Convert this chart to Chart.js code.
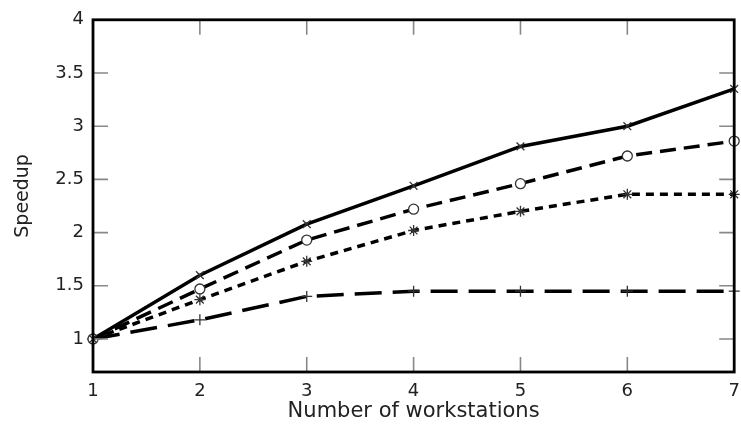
<!DOCTYPE html>
<html>
<head>
<meta charset="utf-8">
<script src="https://cdn.jsdelivr.net/npm/chart.js@4/dist/chart.umd.min.js"></script>
<style>
  html, body { margin: 0; padding: 0; background: #fff; }
  #wrap { width: 741px; height: 436px; }
</style>
</head>
<body>
<div id="wrap"><canvas id="speedupChart" width="741" height="436"></canvas></div>
<script>
// values
const workstations = [1, 2, 3, 4, 5, 6, 7];
const speedupCross  = [1.00, 1.60, 2.08, 2.44, 2.81, 3.00, 3.35];
const speedupCircle = [1.00, 1.47, 1.93, 2.22, 2.46, 2.72, 2.86];
const speedupStar   = [1.00, 1.37, 1.73, 2.02, 2.20, 2.36, 2.36];
const speedupPlus   = [1.00, 1.18, 1.40, 1.45, 1.45, 1.45, 1.45];
const yTickValues = [1, 1.5, 2, 2.5, 3, 3.5, 4];

const FONT = "'DejaVu Sans', sans-serif";

function toPoints(ys) {
    return workstations.map((x, i) => ({ x: x, y: ys[i] }));
}

function series(ys, style, dash) {
    return {
        data: toPoints(ys),
        borderColor: '#000',
        borderWidth: 3.5,
        borderDash: dash,
        pointStyle: style,
        pointRadius: style === 'circle' ? 5 : 5.5,
        pointBackgroundColor: '#fff',
        pointBorderColor: '#333',
        pointBorderWidth: 1.3,
        tension: 0,
        clip: 8
    };
}

// inner tick marks on all four sides plus the box frame
const frameAndTicks = {
    id: 'frameAndTicks',
    afterDraw(chart) {
        const { ctx, chartArea: a, scales } = chart;
        const len = 15;
        ctx.save();
        ctx.strokeStyle = '#888';
        ctx.lineWidth = 1.6;
        ctx.beginPath();
        scales.x.ticks.forEach(t => {
            if (t.value <= scales.x.min || t.value >= scales.x.max) return;
            const px = scales.x.getPixelForValue(t.value);
            ctx.moveTo(px, a.bottom); ctx.lineTo(px, a.bottom - len);
            ctx.moveTo(px, a.top); ctx.lineTo(px, a.top + len);
        });
        scales.y.ticks.forEach(t => {
            if (t.value <= scales.y.min || t.value >= scales.y.max) return;
            const py = scales.y.getPixelForValue(t.value);
            ctx.moveTo(a.left, py); ctx.lineTo(a.left + len, py);
            ctx.moveTo(a.right, py); ctx.lineTo(a.right - len, py);
        });
        ctx.stroke();
        ctx.strokeStyle = '#000';
        ctx.lineWidth = 2.8;
        ctx.strokeRect(a.left, a.top, a.right - a.left, a.bottom - a.top);
        ctx.restore();
    }
};

const ctx = document.getElementById('speedupChart').getContext('2d');
new Chart(ctx, {
    type: 'line',
    data: {
        datasets: [
            series(speedupCross, 'crossRot', []),
            series(speedupCircle, 'circle', [16, 8]),
            series(speedupStar, 'star', [8, 6]),
            series(speedupPlus, 'cross', [27, 11])
        ]
    },
    options: {
        responsive: false,
        animation: false,
        layout: { padding: { top: 18, left: 0, right: 0, bottom: 0 } },
        plugins: {
            legend: { display: false },
            tooltip: { enabled: false }
        },
        scales: {
            x: {
                type: 'linear',
                min: 1,
                max: 7,
                grid: { display: false, drawTicks: false },
                border: { display: false },
                ticks: {
                    stepSize: 1,
                    padding: 9,
                    color: '#222',
                    font: { family: FONT, size: 18 },
                    maxRotation: 0,
                    callback: v => String(v)
                },
                title: {
                    display: true,
                    text: 'Number of workstations',
                    color: '#222',
                    font: { family: FONT, size: 21 },
                    padding: { top: 0, bottom: 12 }
                },
                afterFit: s => { s.height = 64; s.paddingRight = 3; }
            },
            y: {
                min: 0.69,
                max: 4,
                grid: { display: false, drawTicks: false },
                border: { display: false },
                afterBuildTicks: s => { s.ticks = yTickValues.map(v => ({ value: v })); },
                ticks: {
                    padding: 9,
                    color: '#222',
                    font: { family: FONT, size: 18 },
                    callback: v => String(v)
                },
                title: {
                    display: true,
                    text: 'Speedup',
                    color: '#222',
                    font: { family: FONT, size: 19 },
                    padding: { top: 12, bottom: 0 }
                },
                afterFit: s => { s.width = 93; }
            }
        }
    },
    plugins: [frameAndTicks]
});
</script>
</body>
</html>
